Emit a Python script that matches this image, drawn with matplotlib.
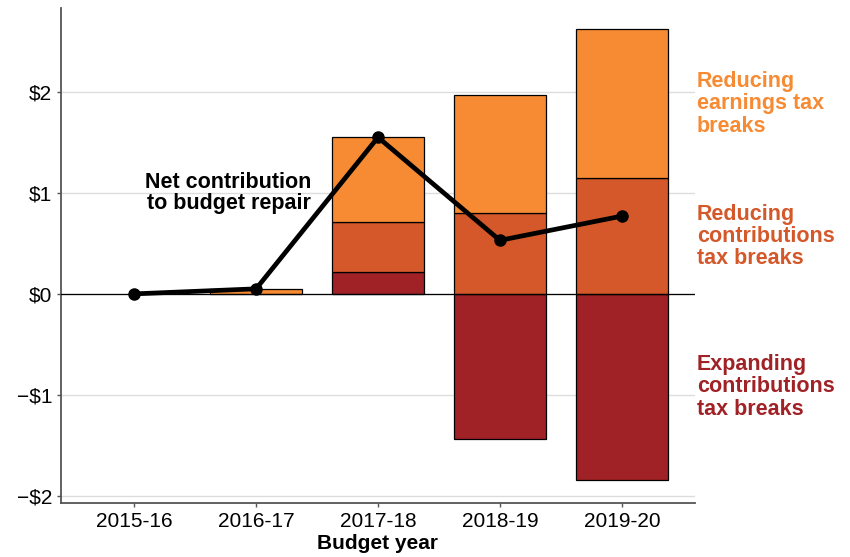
import numpy as np
import matplotlib.pyplot as plt

plt.rcParams['font.family'] = ['Liberation Sans', 'DejaVu Sans']

years = ['2015-16', '2016-17', '2017-18', '2018-19', '2019-20']
# $ billion
expanding_contrib = [0.0, 0.0, 0.22, -1.44, -1.84]
reducing_contrib = [0.0, 0.0, 0.49, 0.80, 1.15]
reducing_earnings = [0.0, 0.05, 0.84, 1.17, 1.47]
net = [0.0, 0.05, 1.55, 0.53, 0.77]

c_earn = '#F68B33'
c_contrib = '#D4582A'
c_expand = '#A02226'

fig = plt.figure(figsize=(8.5, 5.57), dpi=100)
ax = fig.add_axes([0.0718, 0.097, 0.7458, 0.8886])

x = np.arange(len(years))
w = 0.75
exp_pos = np.clip(expanding_contrib, 0, None)
exp_neg = np.clip(expanding_contrib, None, 0)
bar_kw = dict(width=w, edgecolor='black', linewidth=0.9, zorder=2)

# negative part of expanding tax breaks
ax.bar(x, exp_neg, color=c_expand, **bar_kw)
# positive stack
ax.bar(x, exp_pos, color=c_expand, **bar_kw)
ax.bar(x, reducing_contrib, bottom=exp_pos, color=c_contrib, **bar_kw)
ax.bar(x, reducing_earnings, bottom=exp_pos + np.array(reducing_contrib),
       color=c_earn, **bar_kw)

# hide the zero-height bars
for p in ax.patches:
    if abs(p.get_height()) < 1e-9:
        p.set_visible(False)

ax.axhline(0, color='black', linewidth=0.9, zorder=3)
ax.plot(x, net, color='black', linewidth=3.4, marker='o', markersize=8,
        zorder=4, solid_capstyle='round')

ax.set_xlim(-0.6, 4.6)
ax.set_ylim(-2.07, 2.83)
ax.set_yticks([-2, -1, 0, 1, 2])
ax.set_yticklabels(['\u2212$2', '\u2212$1', '$0', '$1', '$2'])
ax.set_xticks(x)
ax.set_xticklabels(years)
ax.yaxis.grid(True, color='#DDDDDD', linewidth=1, zorder=0)
ax.set_axisbelow(True)

for s in ['top', 'right']:
    ax.spines[s].set_visible(False)
for s in ['left', 'bottom']:
    ax.spines[s].set_color('#555555')
    ax.spines[s].set_linewidth(1.3)
ax.tick_params(axis='both', labelsize=15, colors='#555555', labelcolor='black',
               length=3, width=1)
ax.set_xlabel('Budget year', fontsize=15, fontweight='bold', labelpad=2)

ax.text(1.45, 1.0, 'Net contribution\nto budget repair', ha='right', va='center',
        fontsize=15.5, fontweight='bold', linespacing=1.0, zorder=5)

lab_kw = dict(ha='left', va='center', fontsize=15.5, fontweight='bold',
              linespacing=1.08, clip_on=False, transform=ax.get_yaxis_transform())
ax.text(1.003, 1.88, 'Reducing\nearnings tax\nbreaks', color=c_earn, **lab_kw)
ax.text(1.003, 0.57, 'Reducing\ncontributions\ntax breaks', color=c_contrib, **lab_kw)
ax.text(1.003, -0.92, 'Expanding\ncontributions\ntax breaks', color=c_expand, **lab_kw)

fig.savefig('out.png', dpi=100)
